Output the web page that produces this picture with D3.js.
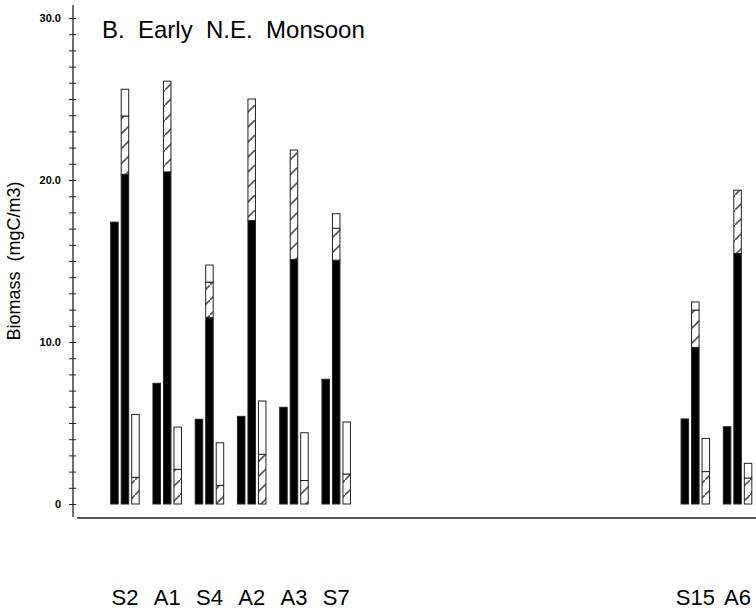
<!DOCTYPE html>
<html>
<head>
<meta charset="utf-8">
<script src="https://cdn.jsdelivr.net/npm/d3@7"></script>
<style>
  body { margin: 0; background: #fff; }
  svg { display: block; font-family: "Liberation Sans", Arial, sans-serif; }
</style>
</head>
<body>
<svg id="chart" width="756" height="610"></svg>
<script>
// station labels and their order along the cruise track
var stations = ["S2", "A1", "S4", "A2", "A3", "S7", "S15", "A6"];
var stationPos = [0, 1, 2, 3, 4, 5, 13.5, 14.5];

// bar 1: solid
var bar1 = [17.4, 7.45, 5.23, 5.41, 5.97, 7.7, 5.25, 4.77];
// bar 2: solid / hatched / open, stacked
var bar2Solid = [20.35, 20.5, 11.5, 17.5, 15.1, 15.05, 9.67, 15.47];
var bar2Hatch = [3.6, 5.6, 2.2, 7.5, 6.75, 1.97, 2.3, 3.9];
var bar2Open = [1.65, 0, 1.05, 0, 0, 0.9, 0.5, 0];
// bar 3: hatched / open, stacked
var bar3Hatch = [1.65, 2.14, 1.15, 3.07, 1.45, 1.85, 2.0, 1.6];
var bar3Open = [3.88, 2.61, 2.63, 3.29, 2.95, 3.21, 2.05, 0.91];

var yTicks = [0, 10, 20, 30];

var svg = d3.select("#chart");
var axisX = 73;
var barW = 7.5, barStep = 10.5;

var y = d3.scaleLinear().domain([0, 30]).range([504, 18]);
var x = d3.scaleLinear().domain([0, 1]).range([110.7, 152.95]);

//hatch pattern
var pat = svg.append("defs").append("pattern")
  .attr("id", "hatch")
  .attr("patternUnits", "userSpaceOnUse")
  .attr("width", 15).attr("height", 15);
pat.append("rect").attr("width", 15).attr("height", 15).attr("fill", "#fff");
pat.append("line")
  .attr("x1", -1).attr("y1", 16).attr("x2", 16).attr("y2", -1)
  .attr("stroke", "#555").attr("stroke-width", 1.6);

// build table for stacking
var rows = stations.map(function (s, i) {
  return { name: s, pos: stationPos[i], b1: bar1[i],
    s2: bar2Solid[i], h2: bar2Hatch[i], o2: bar2Open[i],
    h3: bar3Hatch[i], o3: bar3Open[i] };
});
var fills = { b1: "#000", s2: "#000", h2: "url(#hatch)", o2: "#fff", h3: "url(#hatch)", o3: "#fff" };

function drawStack(keys, slot) {
  var series = d3.stack().keys(keys)(rows);
  series.forEach(function (ser) {
    svg.append("g").selectAll("rect")
      .data(ser.filter(function (d) { return d[1] - d[0] > 0; }))
      .enter().append("rect")
      .attr("x", function (d) { return x(d.data.pos) + slot * barStep; })
      .attr("y", function (d) { return y(d[1]); })
      .attr("width", barW)
      .attr("height", function (d) { return y(d[0]) - y(d[1]); })
      .attr("fill", fills[ser.key])
      .attr("stroke", "#222")
      .attr("stroke-width", 1);
  });
}
drawStack(["b1"], 0);
drawStack(["s2", "h2", "o2"], 1);
drawStack(["h3", "o3"], 2);

// y axis
var yAxis = d3.axisLeft(y)
  .tickValues(d3.range(0, 31, 1))
  .tickSize(0)
  .tickFormat("");
var gy = svg.append("g").attr("transform", "translate(" + axisX + ",0)").call(yAxis);
gy.select(".domain").remove();
gy.selectAll(".tick line").attr("x1", -4).attr("x2", 3).attr("stroke", "#222");
svg.append("line")
  .attr("x1", axisX).attr("x2", axisX).attr("y1", 5).attr("y2", 517)
  .attr("stroke", "#222").attr("stroke-width", 1.3);

svg.append("g").selectAll("text")
  .data(yTicks)
  .enter().append("text")
  .attr("x", 61)
  .attr("y", function (d) { return y(d); })
  .attr("dy", "0.36em")
  .attr("text-anchor", "end")
  .attr("font-size", 11)
  .attr("font-weight", "bold")
  .text(function (d) { return d === 0 ? "0" : d3.format(".1f")(d); });

// x axis line
svg.append("line")
  .attr("x1", 77).attr("x2", 756).attr("y1", 518).attr("y2", 518)
  .attr("stroke", "#222").attr("stroke-width", 1.3);

// station labels
svg.append("g").selectAll("text")
  .data(rows)
  .enter().append("text")
  .attr("x", function (d) { return x(d.pos) + barStep + barW / 2; })
  .attr("y", 605)
  .attr("text-anchor", "middle")
  .attr("font-size", 22)
  .text(function (d) { return d.name; });

// title
svg.append("text")
  .attr("x", 102).attr("y", 38)
  .attr("font-size", 24)
  .style("white-space", "pre")
  .text("B.  Early  N.E.  Monsoon");

// y label
svg.append("text")
  .attr("transform", "translate(20,261) rotate(-90)")
  .attr("text-anchor", "middle")
  .attr("font-size", 18)
  .style("white-space", "pre")
  .text("Biomass  (mgC/m3)");
</script>
</body>
</html>
